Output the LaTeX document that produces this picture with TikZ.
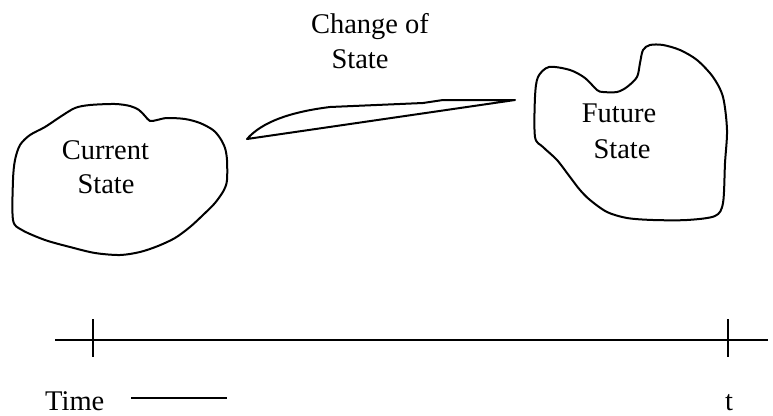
\documentclass[tikz,border=0pt]{standalone}
\usepackage{fontspec}
\setmainfont{Liberation Serif}
\begin{document}
\begin{tikzpicture}[x=1pt,y=-1pt,
  outline/.style={draw=black,line width=2pt,line join=round},
  axis/.style={draw=black,line width=2pt},
  lbl/.style={anchor=base,inner sep=0pt,font=\fontsize{28.5}{34}\selectfont}]
\useasboundingbox (0,0) rectangle (773,415);
% current state blob
\draw[outline] plot[smooth cycle,tension=0.5] coordinates {
 (13,180) (15,160) (20,145) (30,135) (45,127) (60,117) (75,108) (90,105)
 (115,104) (130,106) (139,110) (145,116) (150,121) (157,120) (167,118)
 (185,119) (200,123) (213,130) (220,138) (225,148) (227,160) (227,180)
 (224,190) (215,203) (203,215) (190,227) (175,238) (158,246)
 (140,252) (120,255) (95,253) (70,247) (45,240) (22,230) (13,220)};
% future state blob
\draw[outline] plot[smooth cycle,tension=0.5] coordinates {
 (597,90) (585,78) (570,70) (549,67) (538,77) (535,97) (535,137) (543,147)
 (557,160) (570,177) (580,190) (590,200) (607,212) (627,218) (653,220)
 (687,220) (715,216) (723,203) (725,163) (727,130) (723,97) (713,77)
 (697,60) (680,50) (663,45) (650,45) (643,50) (640,63) (637,77) (627,87)
 (617,92) (603,92)};
% change-of-state callout
\coordinate (tip) at (247,139);
\coordinate (apex) at (515,100);
\draw[outline] (tip) .. controls (262,122) and (290,112) .. (330,107)
  -- (423,103) -- (443,100) -- (apex) -- cycle;
% labels
\node[lbl] (cur1) at (105.5,159) {Current};
\node[lbl] (cur2) at (106,193) {State};
\node[lbl] (fut1) at (619,122) {Future};
\node[lbl] (fut2) at (622,158) {State};
\node[lbl] (chg1) at (370,33) {Change of};
\node[lbl] (chg2) at (360,68) {State};
% time axis
\coordinate (axL) at (55,340);
\coordinate (axR) at (768,340);
\draw[axis] (axL) -- (axR);
\coordinate (t0a) at (93,319); \coordinate (t0b) at (93,357);
\coordinate (t1a) at (728,319); \coordinate (t1b) at (728,357);
\draw[axis] (t0a) -- (t0b);
\draw[axis] (t1a) -- (t1b);
\node[lbl,anchor=base west] (time) at (45,410) {Time};
\coordinate (dL) at (131,398); \coordinate (dR) at (227,398);
\draw[axis] (dL) -- (dR);
\node[lbl] (tl) at (729,410) {t};
\end{tikzpicture}
\end{document}
